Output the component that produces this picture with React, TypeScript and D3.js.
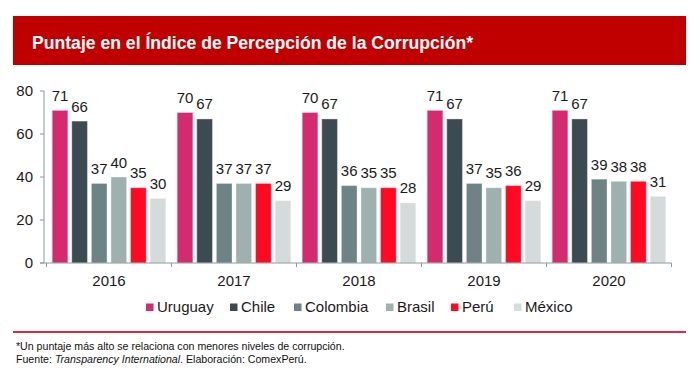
import React from 'react';
import * as d3 from 'd3';

const years = ['2016', '2017', '2018', '2019', '2020'];
const countries = ['Uruguay', 'Chile', 'Colombia', 'Brasil', 'Perú', 'México'];
const uruguay = [71, 70, 70, 71, 71];
const chile = [66, 67, 67, 67, 67];
const colombia = [37, 37, 36, 37, 39];
const brasil = [40, 37, 35, 35, 38];
const peru = [35, 37, 35, 36, 38];
const mexico = [30, 29, 28, 29, 31];
const yTicks = [0, 20, 40, 60, 80];
const colors = ['#D42A6F', '#3C4A51', '#6D8385', '#9FB1AE', '#FF0A22', '#D4DBDA'];

const title = 'Puntaje en el Índice de Percepción de la Corrupción*';
const note1 = '*Un puntaje más alto se relaciona con menores niveles de corrupción.';

const series = [uruguay, chile, colombia, brasil, peru, mexico];

// layout
const W = 699;
const H = 380;
const legendX = [146, 230, 294, 386, 451, 514];
const FONT = '"Liberation Sans", Arial, sans-serif';
const NARROW = '"Liberation Sans Narrow", "Arial Narrow", "Liberation Sans", Arial, sans-serif';

export default function App() {
  const y = d3.scaleLinear().domain([0, 80]).range([263, 91]);
  const x0 = d3.scaleBand<string>().domain(years).range([46.5, 671.5]).padding(0);
  const x1 = d3
    .scaleBand<string>()
    .domain(countries)
    .range([0, x0.bandwidth()])
    .paddingInner(0.2)
    .paddingOuter(0.29);
  const axisColor = '#8C9AA0';
  const axisX = 44;
  const boundaries = [...years.map((yr) => x0(yr) as number), (x0(years[years.length - 1]) as number) + x0.bandwidth()];

  return (
    <svg width={W} height={H} style={{ position: 'absolute', left: 0, top: 0 }} fontFamily={FONT}>
      <rect x={0} y={0} width={W} height={H} fill="#fff" />
      {/* title bar */}
      <rect x={13} y={16} width={673} height={49} fill="#C00000" />
      <text
        x={32}
        y={49.3}
        fill="#fff"
        fontWeight="bold"
        fontSize={17.5}
        fontFamily={NARROW}
        textLength={441}
        lengthAdjust="spacingAndGlyphs"
      >
        {title}
      </text>

      {/* bars */}
      {years.map((yr, i) => (
        <g key={yr} transform={`translate(${x0(yr)},0)`}>
          {countries.map((c, j) => {
            const v = series[j][i];
            const bx = x1(c) as number;
            const bw = x1.bandwidth();
            return (
              <g key={c}>
                <rect
                  x={bx}
                  y={y(v)}
                  width={bw}
                  height={y(0) - y(v)}
                  fill={colors[j]}
                  stroke="rgba(255,255,255,0.35)"
                  strokeWidth={1}
                />
                <text
                  x={bx + bw / 2}
                  y={y(v) - 9.5}
                  textAnchor="middle"
                  fontSize={15}
                  fill="#1a1a1a"
                >
                  {v}
                </text>
              </g>
            );
          })}
        </g>
      ))}

      {/* y axis */}
      <line x1={axisX} x2={axisX} y1={y(0)} y2={y(80)} stroke={axisColor} strokeWidth={1} />
      {yTicks.map((t) => (
        <g key={t}>
          <line x1={axisX - 4} x2={axisX} y1={y(t)} y2={y(t)} stroke={axisColor} strokeWidth={1} />
          <text x={33} y={y(t)} dy="0.35em" textAnchor="end" fontSize={15} fill="#1a1a1a">
            {t}
          </text>
        </g>
      ))}

      {/* x axis */}
      <line x1={axisX - 4} x2={boundaries[boundaries.length - 1]} y1={y(0)} y2={y(0)} stroke={axisColor} strokeWidth={1} />
      {boundaries.map((b, i) => (
        <line key={i} x1={b} x2={b} y1={y(0)} y2={y(0) + 4} stroke={axisColor} strokeWidth={1} />
      ))}
      {years.map((yr) => (
        <text
          key={yr}
          x={(x0(yr) as number) + x0.bandwidth() / 2}
          y={285.5}
          textAnchor="middle"
          fontSize={15}
          fill="#1a1a1a"
        >
          {yr}
        </text>
      ))}

      {/* legend */}
      {countries.map((c, j) => (
        <g key={c} transform={`translate(${legendX[j]},0)`}>
          <rect x={0} y={303.5} width={7.5} height={7.5} fill={colors[j]} />
          <text x={11} y={311.5} fontSize={15} fill="#1a1a1a">
            {c}
          </text>
        </g>
      ))}

      {/* footer */}
      <line x1={13} x2={686} y1={332} y2={332} stroke="#E3263F" strokeWidth={2} />
      <text x={16} y={349.5} fontSize={10.6} fill="#111">
        {note1}
      </text>
      <text x={16} y={362.5} fontSize={10.6} fill="#111">
        Fuente: <tspan fontStyle="italic">Transparency International</tspan>. Elaboración: ComexPerú.
      </text>
    </svg>
  );
}
